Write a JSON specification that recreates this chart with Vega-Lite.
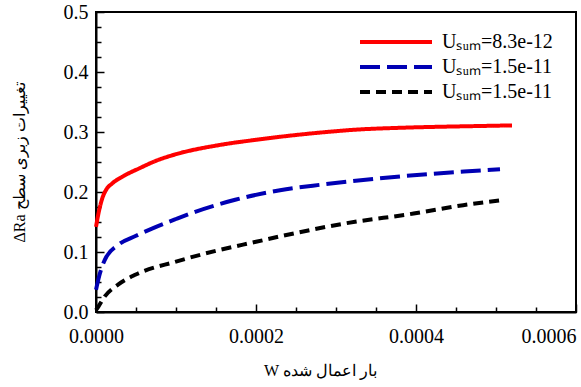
{
  "$schema": "https://vega.github.io/schema/vega-lite/v6.json",
  "width": 480,
  "height": 300,
  "autosize": {"type": "none"},
  "padding": {"left": 96, "top": 12, "right": 5, "bottom": 75},
  "background": "white",
  "config": {
    "view": {"stroke": "black", "strokeWidth": 2},
    "font": "Liberation Serif",
    "axis": {
      "domainColor": "black", "domainWidth": 2, "tickColor": "black", "tickWidth": 1.5,
      "labelFont": "Liberation Serif", "labelFontSize": 20, "labelColor": "black",
      "titleFont": "Liberation Serif", "titleFontSize": 16, "titleFontWeight": "normal", "titleColor": "black",
      "grid": false
    }
  },
  "data": {"values": [
    {"x": 0, "y": 0.142, "s": "a"},
    {"x": 0.000004, "y": 0.17, "s": "a"},
    {"x": 0.000008, "y": 0.19, "s": "a"},
    {"x": 0.0000133, "y": 0.205, "s": "a"},
    {"x": 0.00002, "y": 0.214, "s": "a"},
    {"x": 0.000035, "y": 0.227, "s": "a"},
    {"x": 0.000055, "y": 0.24, "s": "a"},
    {"x": 0.000075, "y": 0.252, "s": "a"},
    {"x": 0.0001, "y": 0.263, "s": "a"},
    {"x": 0.000153, "y": 0.278, "s": "a"},
    {"x": 0.0002, "y": 0.287, "s": "a"},
    {"x": 0.00023, "y": 0.292, "s": "a"},
    {"x": 0.00028, "y": 0.299, "s": "a"},
    {"x": 0.000326, "y": 0.304, "s": "a"},
    {"x": 0.00038, "y": 0.307, "s": "a"},
    {"x": 0.00044, "y": 0.309, "s": "a"},
    {"x": 0.00048, "y": 0.31, "s": "a"},
    {"x": 0.00052, "y": 0.311, "s": "a"},
    {"x": 0, "y": 0.037, "s": "b"},
    {"x": 0.000004, "y": 0.06, "s": "b"},
    {"x": 0.000011, "y": 0.087, "s": "b"},
    {"x": 0.000028, "y": 0.112, "s": "b"},
    {"x": 0.00005, "y": 0.127, "s": "b"},
    {"x": 0.00007, "y": 0.139, "s": "b"},
    {"x": 0.0001, "y": 0.155, "s": "b"},
    {"x": 0.000124, "y": 0.167, "s": "b"},
    {"x": 0.000174, "y": 0.187, "s": "b"},
    {"x": 0.00023, "y": 0.203, "s": "b"},
    {"x": 0.00028, "y": 0.212, "s": "b"},
    {"x": 0.000334, "y": 0.22, "s": "b"},
    {"x": 0.00038, "y": 0.226, "s": "b"},
    {"x": 0.000418, "y": 0.23, "s": "b"},
    {"x": 0.00046, "y": 0.234, "s": "b"},
    {"x": 0.000505, "y": 0.238, "s": "b"},
    {"x": 0, "y": 0.003, "s": "c"},
    {"x": 0.000003, "y": 0.009, "s": "c"},
    {"x": 0.000011, "y": 0.026, "s": "c"},
    {"x": 0.000028, "y": 0.046, "s": "c"},
    {"x": 0.000049, "y": 0.062, "s": "c"},
    {"x": 0.0001, "y": 0.084, "s": "c"},
    {"x": 0.000153, "y": 0.103, "s": "c"},
    {"x": 0.0002, "y": 0.117, "s": "c"},
    {"x": 0.00023, "y": 0.126, "s": "c"},
    {"x": 0.000313, "y": 0.148, "s": "c"},
    {"x": 0.000397, "y": 0.164, "s": "c"},
    {"x": 0.000459, "y": 0.178, "s": "c"},
    {"x": 0.000511, "y": 0.187, "s": "c"}
  ]},
  "resolve": {"axis": {"x": "independent", "y": "independent"}},
  "layer": [
    {
      "mark": {"type": "line", "strokeWidth": 4, "strokeCap": "butt", "interpolate": "monotone"},
      "encoding": {
        "x": {
          "field": "x", "type": "quantitative",
          "scale": {"domain": [0, 0.0006], "nice": false},
          "axis": {
            "orient": "bottom",
            "values": [0, 0.0002, 0.0004, 0.0006],
            "format": ".4f",
            "tickSize": -8,
            "labelPadding": 22,
            "labelAlign": {"condition": {"test": "datum.value >= 0.0006", "value": "right"}, "value": "center"},
            "title": "W بار اعمال شده",
            "titlePadding": 16,
            "titleX": 224
          }
        },
        "y": {
          "field": "y", "type": "quantitative",
          "scale": {"domain": [0, 0.5], "nice": false},
          "axis": {
            "orient": "left",
            "values": [0, 0.1, 0.2, 0.3, 0.4, 0.5],
            "format": ".1f",
            "tickSize": -8,
            "labelPadding": 16,
            "title": "ΔRa  تغییرات زبری سطح",
            "titlePadding": 36
          }
        },
        "color": {
          "field": "s", "type": "nominal",
          "scale": {"domain": ["a", "b", "c"], "range": ["#ff0000", "#0000b4", "#000000"]},
          "legend": {
            "orient": "none", "legendX": 262, "legendY": 20,
            "title": null,
            "symbolType": "stroke", "symbolSize": 5184, "symbolStrokeWidth": 4,
            "clipHeight": 20,
            "labelFont": "Liberation Serif", "labelFontSize": 20, "labelColor": "black",
            "labelOffset": 8, "rowPadding": 5,
            "labelExpr": "datum.label == 'a' ? 'Uₛᵤₘ=8.3e-12' : 'Uₛᵤₘ=1.5e-11'"
          }
        },
        "strokeDash": {
          "field": "s", "type": "nominal",
          "scale": {"domain": ["a", "b", "c"], "range": [[1, 0], [20, 7], [10, 6]]}
        }
      }
    },
    {
      "mark": {"type": "point", "opacity": 0},
      "encoding": {
        "x": {
          "field": "x", "type": "quantitative",
          "axis": {
            "orient": "bottom",
            "values": [0.00005, 0.0001, 0.00015, 0.00025, 0.0003, 0.00035, 0.00045, 0.0005, 0.00055],
            "tickSize": -5, "labels": false, "domain": false, "title": null
          }
        },
        "y": {
          "field": "y", "type": "quantitative",
          "axis": {
            "orient": "left",
            "values": [0.025, 0.05, 0.075, 0.125, 0.15, 0.175, 0.225, 0.25, 0.275, 0.325, 0.35, 0.375, 0.425, 0.45, 0.475],
            "tickSize": -5, "labels": false, "domain": false, "title": null
          }
        }
      }
    }
  ]
}
